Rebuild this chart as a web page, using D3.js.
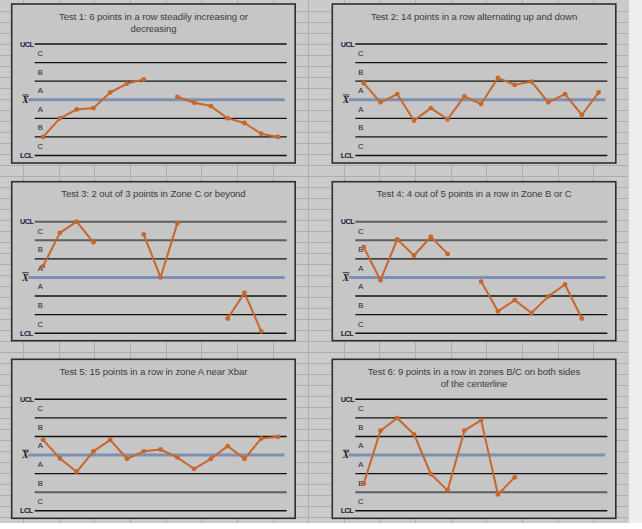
<!DOCTYPE html>
<html><head><meta charset="utf-8">
<script src="https://cdn.jsdelivr.net/npm/d3@7"></script>
<style>
html,body{margin:0;padding:0;background:#fff;}
svg{display:block;}
</style></head>
<body>
<svg id="c" width="642" height="529"></svg>
<script>
// ---------- data ----------
const titles = [
  ["Test 1: 6 points in a row steadily increasing or", "decreasing"],
  ["Test 2: 14 points in a row alternating up and down"],
  ["Test 3: 2 out of 3 points in Zone C or beyond"],
  ["Test 4: 4 out of 5 points in a row in Zone B or C"],
  ["Test 5: 15 points in a row in zone A near Xbar"],
  ["Test 6: 9 points in a row in zones B/C on both sides", "of the centerline"]
];
// values in sigma units around the centerline (Xbar = 0, UCL = 3, LCL = -3)
const test1 = [-2.0, -1.0, -0.52, -0.45, 0.39, 0.87, 1.09, null, 0.16, -0.16, -0.34, -1.0, -1.25, -1.83, -2.0];
const test2 = [0.89, -0.14, 0.30, -1.12, -0.45, -1.05, 0.18, -0.23, 1.18, 0.80, 0.98, -0.14, 0.30, -0.82, 0.39];
const test3 = [0.61, 2.4, 3.0, 1.89, null, null, 2.32, 0.0, 2.91, null, null, -2.21, -0.83, -2.9, null];
const test4 = [1.63, -0.15, 2.05, 1.18, 2.19, 1.27, null, -0.22, -1.82, -1.22, -1.91, -1.02, -0.38, -2.21, null];
const test5 = [0.82, -0.18, -0.9, 0.2, 0.82, -0.2, 0.2, 0.3, -0.13, -0.74, -0.2, 0.48, -0.2, 0.89, 0.98];
const test6 = [-1.54, 1.31, 1.99, 1.11, -1.02, -1.9, 1.31, 1.88, -2.12, -1.2, null, null, null, null, null];
const series = [test1, test2, test3, test4, test5, test6];
const zoneLevels = [3, 2, 1, -1, -2, -3];          // UCL, C/B, B/A, A/B, B/C, LCL
const zoneLabels = ["C", "B", "A", "A", "B", "C"];  // zone names from top to bottom
const zoneCenters = [2.5, 1.5, 0.5, -0.5, -1.5, -2.5];
const limitLabels = ["UCL", "LCL"];

// ---------- layout / style ----------
const W = 642, H = 529;
const colX = [11.7, 332.3], rowY = [4, 181.7, 359.3];
const PW = 283.5, PH = 159;
const grayLines = [[], [], [3, 2], [3, 2], [-2], [-2]]; // rendering-shade lines per panel
const orange = "#c8662b";

const svg = d3.select("#c");

// spreadsheet background
svg.append("rect").attr("width", W).attr("height", H).attr("fill", "#cbcbcb");
const gridG = svg.append("g").attr("stroke", "#adadad").attr("stroke-width", 1);
for (let x = 23; x < 630; x += 35.65) {
  gridG.append("line").attr("x1", Math.round(x) + 0.5).attr("x2", Math.round(x) + 0.5).attr("y1", 0).attr("y2", 523);
}
for (let y = 10.7; y < 523; y += 11) {
  gridG.append("line").attr("x1", 0).attr("x2", 628).attr("y1", Math.round(y) + 0.5).attr("y2", Math.round(y) + 0.5);
}
svg.append("rect").attr("x", 629).attr("y", 0).attr("width", 13).attr("height", H).attr("fill", "#eeeeee");
svg.append("rect").attr("x", 0).attr("y", 523).attr("width", W).attr("height", 6).attr("fill", "#ffffff");

series.forEach((vals, i) => {
  const px = colX[i % 2], py = rowY[Math.floor(i / 2)];
  const g = svg.append("g").attr("transform", `translate(${px},${py})`);
  g.append("rect").attr("x", 0).attr("y", 0).attr("width", PW).attr("height", PH)
    .attr("fill", "#c6c6c6").attr("stroke", "#2e2e2e").attr("stroke-width", 1.6);

  const y = d3.scaleLinear().domain([-3, 3]).range([151.5, 40]);
  const x = d3.scaleLinear().domain([0, 14]).range([31.4, 266.3]);

  // title
  const t = g.append("text").attr("x", PW / 2).attr("y", 15.8)
    .attr("text-anchor", "middle").attr("fill", "#3c3c3c")
    .style("font-family", "'Liberation Sans Narrow','Arial Narrow','Liberation Sans',sans-serif")
    .style("font-size", "9.6px").attr("letter-spacing", -0.1);
  titles[i].forEach((s, k) => t.append("tspan").attr("x", PW / 2).attr("dy", k === 0 ? 0 : 12.4).text(s));

  // zone lines
  zoneLevels.forEach(v => {
    const gray = grayLines[i].includes(v);
    g.append("line").attr("x1", 23).attr("x2", 275)
      .attr("y1", y(v)).attr("y2", y(v))
      .attr("stroke", gray ? "#5e5e5e" : "#111").attr("stroke-width", gray ? 2 : 1.4);
  });
  // centre line
  g.append("line").attr("x1", 16.5).attr("x2", 273).attr("y1", y(0)).attr("y2", y(0))
    .attr("stroke", "#7d90b2").attr("stroke-width", 3);

  // limit labels
  const lab = g.append("g").style("font-family", "'Liberation Sans',Arial,sans-serif")
    .attr("fill", "#141c36");
  lab.append("text").attr("x", 8.4).attr("y", y(3)).attr("dy", "0.36em")
    .style("font-size", "7.3px").style("font-weight", "bold").attr("letter-spacing", -0.55).text(limitLabels[0]);
  lab.append("text").attr("x", 8.4).attr("y", y(-3)).attr("dy", "0.36em")
    .style("font-size", "7.3px").style("font-weight", "bold").attr("letter-spacing", -0.55).text(limitLabels[1]);
  zoneLabels.forEach((s, k) => {
    lab.append("text").attr("x", 28.5).attr("y", y(zoneCenters[k])).attr("dy", "0.36em")
      .attr("text-anchor", "middle").style("font-size", "7.6px").text(s);
  });
  // X-bar label
  lab.append("text").attr("x", 10.5).attr("y", y(0)).attr("dy", "0.36em")
    .style("font-family", "'Liberation Serif','DejaVu Serif',serif")
    .style("font-size", "9.5px").style("font-style", "italic").style("font-weight", "bold").attr("fill", "#111").text("X");
  g.append("line").attr("x1", 10.5).attr("x2", 17).attr("y1", y(0) - 4.8).attr("y2", y(0) - 4.8)
    .attr("stroke", "#111").attr("stroke-width", 0.8);

  // data
  const pts = vals.map((v, k) => ({ k, v }));
  const line = d3.line().defined(d => d.v !== null).x(d => x(d.k)).y(d => y(d.v));
  g.append("path").attr("d", line(pts)).attr("fill", "none")
    .attr("stroke", orange).attr("stroke-width", 2).attr("stroke-linejoin", "round");
  g.selectAll("circle.p").data(pts.filter(d => d.v !== null)).enter().append("circle")
    .attr("class", "p").attr("cx", d => x(d.k)).attr("cy", d => y(d.v)).attr("r", 2.4).attr("fill", orange);
});
</script>
</body></html>
